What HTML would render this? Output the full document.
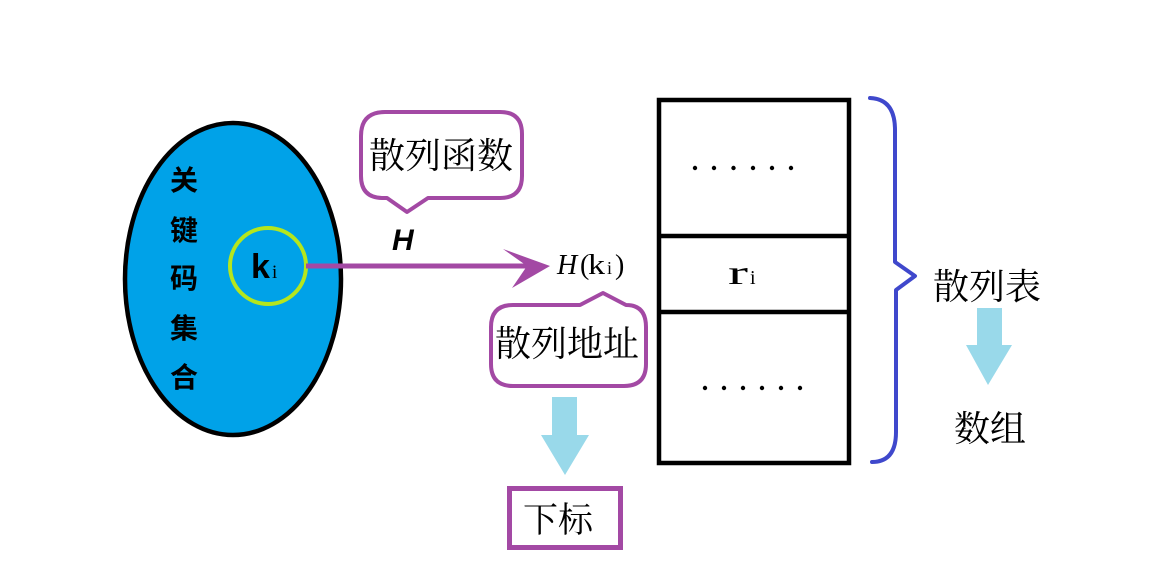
<!DOCTYPE html>
<html>
<head>
<meta charset="utf-8">
<style>
  html,body{margin:0;padding:0;background:#fff;}
  svg{display:block;}
  .cjk{font-family:"Noto Serif CJK SC","Liberation Serif",serif;font-size:36px;fill:#000;}
  .hei{font-family:"Noto Sans CJK SC","Liberation Sans",sans-serif;font-weight:bold;font-size:28px;fill:#000;}
</style>
</head>
<body>
<svg width="1159" height="582" viewBox="0 0 1159 582" xmlns="http://www.w3.org/2000/svg">
  <rect x="0" y="0" width="1159" height="582" fill="#fff"/>

  <!-- Ellipse: key set -->
  <ellipse cx="233" cy="279" rx="108" ry="156" fill="#00A2E8" stroke="#000" stroke-width="4.5"/>
  <text class="hei" x="184" y="190" text-anchor="middle">关</text>
  <text class="hei" x="184" y="240" text-anchor="middle">键</text>
  <text class="hei" x="184" y="288" text-anchor="middle">码</text>
  <text class="hei" x="184" y="338" text-anchor="middle">集</text>
  <text class="hei" x="184" y="387" text-anchor="middle">合</text>

  <!-- green circle ki -->
  <circle cx="268" cy="266" r="38" fill="none" stroke="#B5E61D" stroke-width="4"/>
  <text x="251" y="278" font-family="Liberation Sans, sans-serif" font-weight="bold" font-size="34" fill="#000">k</text>
  <text x="272" y="278" font-family="Liberation Serif, serif" font-size="19" fill="#000">i</text>

  <!-- purple arrow -->
  <line x1="306" y1="266" x2="530" y2="266" stroke="#A349A4" stroke-width="5"/>
  <polygon points="503,249 550,266 512,288 527,266" fill="#A349A4"/>

  <!-- H label -->
  <text x="392" y="250" font-family="Liberation Sans, sans-serif" font-weight="bold" font-style="italic" font-size="30" fill="#000">H</text>

  <!-- H(ki) -->
  <text x="557" y="274" font-family="Liberation Serif, serif" font-style="italic" font-size="28" fill="#000">H</text>
  <text x="580" y="274" font-family="Liberation Serif, serif" font-size="28" fill="#000">(</text>
  <text x="588" y="274" font-family="Liberation Serif, serif" font-size="29" textLength="17" lengthAdjust="spacingAndGlyphs" fill="#000">k</text>
  <text x="607" y="274" font-family="Liberation Serif, serif" font-size="18" fill="#000">i</text>
  <text x="615" y="274" font-family="Liberation Serif, serif" font-size="28" fill="#000">)</text>

  <!-- bubble 散列函数 -->
  <path d="M 385,112 H 500 Q 522,112 522,134 V 176 Q 522,198 500,198 H 428 L 407,212 L 387,198 H 383 Q 361,198 361,176 V 136 Q 361,112 385,112 Z"
        fill="#fff" stroke="#A349A4" stroke-width="4" stroke-linejoin="round"/>
  <text class="cjk" x="369" y="168">散列函数</text>

  <!-- bubble 散列地址 -->
  <path d="M 513,305 H 580 L 603,293 L 626,305 Q 646,305 646,327 V 364 Q 646,386 624,386 H 513 Q 491,386 491,364 V 327 Q 491,305 513,305 Z"
        fill="#fff" stroke="#A349A4" stroke-width="4" stroke-linejoin="round"/>
  <text class="cjk" x="495" y="356">散列地址</text>

  <!-- down arrow to 下标 -->
  <polygon points="552,397 577,397 577,435 589,435 565,475 541,435 552,435" fill="#99D9EA"/>

  <!-- 下标 box -->
  <rect x="509.5" y="488.5" width="111" height="59" fill="#fff" stroke="#A349A4" stroke-width="5"/>
  <text class="cjk" x="523" y="532" style="font-size:35px">下标</text>

  <!-- table -->
  <rect x="659" y="100" width="190" height="363" fill="#fff" stroke="#000" stroke-width="4.5"/>
  <line x1="659" y1="236" x2="849" y2="236" stroke="#000" stroke-width="4.5"/>
  <line x1="659" y1="312" x2="849" y2="312" stroke="#000" stroke-width="4.5"/>
  <g fill="#000">
    <circle cx="695" cy="168" r="2.2"/><circle cx="714" cy="168" r="2.2"/><circle cx="733.5" cy="168" r="2.2"/>
    <circle cx="753" cy="168" r="2.2"/><circle cx="772" cy="168" r="2.2"/><circle cx="791" cy="168" r="2.2"/>
    <circle cx="705" cy="388" r="2.2"/><circle cx="724" cy="388" r="2.2"/><circle cx="743" cy="388" r="2.2"/>
    <circle cx="762" cy="388" r="2.2"/><circle cx="781" cy="388" r="2.2"/><circle cx="800" cy="388" r="2.2"/>
  </g>
  <text x="728" y="284" font-family="Liberation Serif, serif" font-size="34" textLength="20" lengthAdjust="spacingAndGlyphs" fill="#000">r</text>
  <text x="750" y="284" font-family="Liberation Serif, serif" font-size="20" fill="#000">i</text>

  <!-- brace -->
  <path d="M 870,98 Q 895,99 895,130 V 262 L 915,276 L 896,290 V 432 Q 896,462 872,462"
        fill="none" stroke="#3F48CC" stroke-width="4" stroke-linejoin="round" stroke-linecap="round"/>

  <!-- 散列表 / arrow / 数组 -->
  <text class="cjk" x="933" y="299">散列表</text>
  <polygon points="977,308 1002,308 1002,345 1012,345 988,385 966,345 977,345" fill="#99D9EA"/>
  <text class="cjk" x="954" y="441">数组</text>
</svg>
</body>
</html>
